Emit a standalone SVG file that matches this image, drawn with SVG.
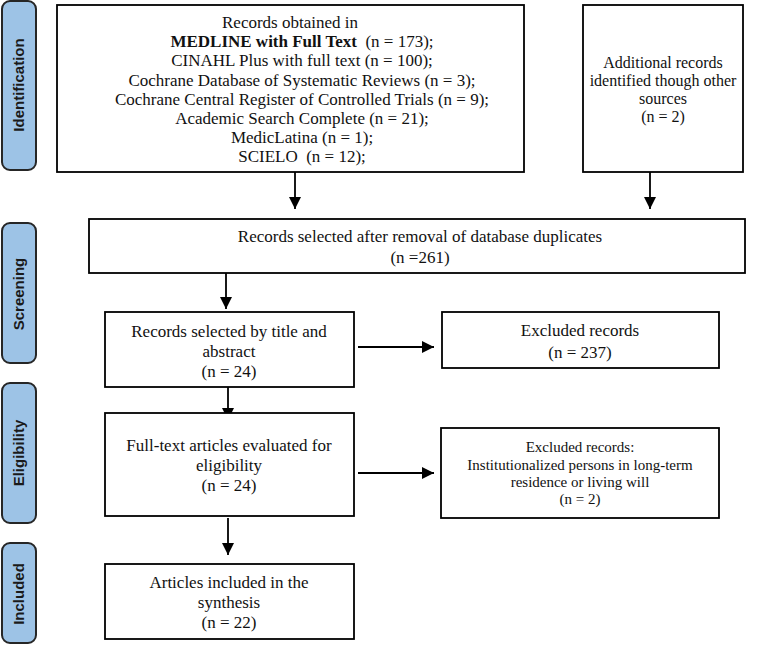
<svg xmlns="http://www.w3.org/2000/svg" width="778" height="645" viewBox="0 0 778 645">
<defs>
<marker id="ah" markerUnits="userSpaceOnUse" markerWidth="12" markerHeight="12" viewBox="0 0 10 10" refX="10" refY="5" orient="auto">
<path d="M0,0 L10,5 L0,10 Z" fill="#000"/>
</marker>
<style>
.phase{fill:#9dc3e6;stroke:#262626;stroke-width:2}
.ptxt{font-family:"Liberation Sans",Arial,sans-serif;font-weight:bold;font-size:15px;fill:#1a1a1a;text-anchor:middle}
.box{fill:#fff;stroke:#000;stroke-width:1.8}
.t{font-family:"Liberation Serif","Times New Roman",serif;font-size:17px;fill:#111;text-anchor:middle}
.s{font-size:15px}
.m{font-size:16px}
.c{stroke:#000;stroke-width:1.8;fill:none;marker-end:url(#ah)}
</style>
</defs>
<rect width="778" height="645" fill="#fff"/>
<g id="phase-identification">
<rect class="phase" x="2" y="1" width="34" height="169" rx="8"/>
<text class="ptxt" transform="translate(19,85) rotate(-90)" y="5">Identification</text>
</g>
<g id="phase-screening">
<rect class="phase" x="2" y="223" width="34" height="140" rx="8"/>
<text class="ptxt" transform="translate(19,294) rotate(-90)" y="5">Screening</text>
</g>
<g id="phase-eligibility">
<rect class="phase" x="2" y="383" width="34" height="140" rx="8"/>
<text class="ptxt" transform="translate(19,453) rotate(-90)" y="5">Eligibility</text>
</g>
<g id="phase-included">
<rect class="phase" x="2" y="543" width="34" height="100" rx="8"/>
<text class="ptxt" transform="translate(19,594) rotate(-90)" y="5">Included</text>
</g>
<g id="connectors">
<line class="c" x1="295" y1="172" x2="295" y2="209"/>
<line class="c" x1="650" y1="172" x2="650" y2="209"/>
<line class="c" x1="226" y1="273" x2="226" y2="309"/>
<line class="c" x1="358" y1="347" x2="434" y2="347"/>
<line class="c" x1="228" y1="381" x2="228" y2="420"/>
<line class="c" x1="358" y1="473" x2="434" y2="473"/>
<line class="c" x1="228" y1="518" x2="228" y2="555"/>
</g>
<g id="records-obtained">
<rect class="box" x="57" y="5" width="467" height="167"/>
<text class="t" x="290" y="28">Records obtained in</text>
<text class="t" x="302" y="47" xml:space="preserve"><tspan font-weight="bold">MEDLINE with Full Text</tspan>  (n = 173);</text>
<text class="t" x="302" y="66">CINAHL Plus with full text  (n = 100);</text>
<text class="t" x="302" y="86">Cochrane Database of Systematic Reviews (n = 3);</text>
<text class="t" x="302" y="105">Cochrane Central Register of Controlled Trials (n = 9);</text>
<text class="t" x="302" y="124">Academic Search Complete (n = 21);</text>
<text class="t" x="302" y="143">MedicLatina (n = 1);</text>
<text class="t" x="302" y="162" xml:space="preserve">SCIELO  (n = 12);</text>
</g>
<g id="additional-records">
<rect class="box" x="583" y="5" width="160" height="167"/>
<text class="t m" x="663" y="68">Additional records</text>
<text class="t m" x="663" y="86">identified though other</text>
<text class="t m" x="663" y="104">sources</text>
<text class="t m" x="663" y="122">(n = 2)</text>
</g>
<g id="after-duplicates">
<rect class="box" x="89" y="219" width="656" height="54"/>
<text class="t" x="420" y="242">Records selected after removal of database duplicates</text>
<text class="t" x="420" y="263">(n =261)</text>
</g>
<g id="title-abstract">
<rect class="box" x="105" y="312" width="249" height="75"/>
<text class="t" x="229" y="337">Records selected by title and</text>
<text class="t" x="229" y="357">abstract</text>
<text class="t" x="229" y="377">(n = 24)</text>
</g>
<g id="excluded-1">
<rect class="box" x="442" y="312" width="277" height="56"/>
<text class="t" x="580" y="336">Excluded records</text>
<text class="t" x="580" y="358">(n = 237)</text>
</g>
<g id="full-text">
<rect class="box" x="105" y="413" width="249" height="103"/>
<text class="t" x="229" y="451">Full-text articles evaluated for</text>
<text class="t" x="229" y="471">eligibility</text>
<text class="t" x="229" y="491">(n = 24)</text>
</g>
<g id="excluded-2">
<rect class="box" x="441" y="428" width="278" height="90"/>
<text class="t s" x="580" y="452">Excluded records:</text>
<text class="t s" x="580" y="470">Institutionalized persons in long-term</text>
<text class="t s" x="580" y="487">residence or living will</text>
<text class="t s" x="580" y="504">(n = 2)</text>
</g>
<g id="included">
<rect class="box" x="105" y="564" width="249" height="75"/>
<text class="t" x="229" y="588">Articles included in the</text>
<text class="t" x="229" y="608">synthesis</text>
<text class="t" x="229" y="628">(n = 22)</text>
</g>
</svg>
